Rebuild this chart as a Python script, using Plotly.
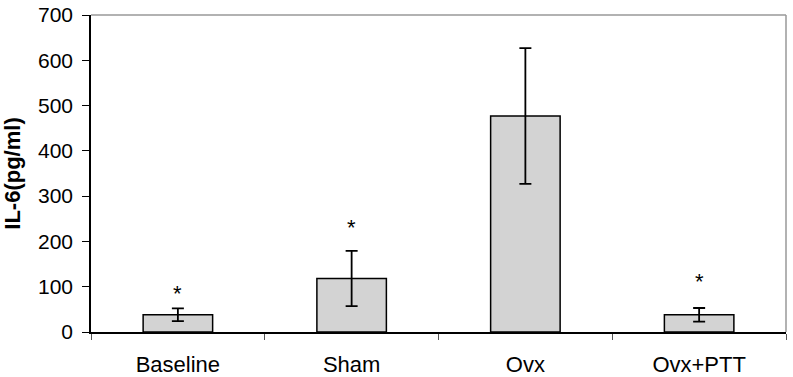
import plotly.graph_objects as go

categories = ["Baseline", "Sham", "Ovx", "Ovx+PTT"]
means = [38, 118, 477, 38]
errors = [14, 61, 150, 15]
star_y = [86, 230, None, 111]
y_ticks = [0, 100, 200, 300, 400, 500, 600, 700]

fig = go.Figure()
fig.add_trace(go.Bar(
    x=categories, y=means,
    marker=dict(color="#d3d3d3", line=dict(color="black", width=1.5)),
    error_y=dict(type="data", array=errors, visible=True, color="black", thickness=1.8, width=6),
    width=0.4,
))

for c, s in zip(categories, star_y):
    if s is not None:
        fig.add_annotation(x=c, y=s, text="*", showarrow=False,
                           font=dict(size=22, color="black", family="Liberation Sans, Arial"))

fig.add_shape(type="line", xref="paper", yref="paper", x0=0, x1=1, y0=1, y1=1,
              line=dict(color="#999999", width=1.5))
fig.add_shape(type="line", xref="paper", yref="paper", x0=1, x1=1, y0=0, y1=1,
              line=dict(color="#999999", width=1.5))

fig.update_layout(
    width=793, height=377,
    margin=dict(l=91, r=7, t=15, b=45, autoexpand=False),
    paper_bgcolor="white", plot_bgcolor="white",
    showlegend=False,
    font=dict(family="Liberation Sans, Arial", size=22, color="black"),
    xaxis=dict(showline=True, linecolor="black", linewidth=1.5,
               ticks="outside", tickson="boundaries", ticklen=6, tickcolor="#555555",
               tickwidth=1, showgrid=False, tickfont=dict(size=22),
               ticklabelstandoff=12),
    yaxis=dict(range=[0, 700], tickvals=y_ticks, showline=True, linecolor="black",
               linewidth=1.5, ticks="outside", ticklen=7, tickcolor="black",
               showgrid=False, zeroline=False, tickfont=dict(size=21),
               ticklabelstandoff=5, ticklabeloverflow="allow",
               title=dict(text="<b>IL-6(pg/ml)</b>", font=dict(size=22), standoff=18)),
)

fig.write_html("out.html", config={"displayModeBar": False},
               post_script="document.body.style.margin='0';document.body.style.overflow='hidden';")
